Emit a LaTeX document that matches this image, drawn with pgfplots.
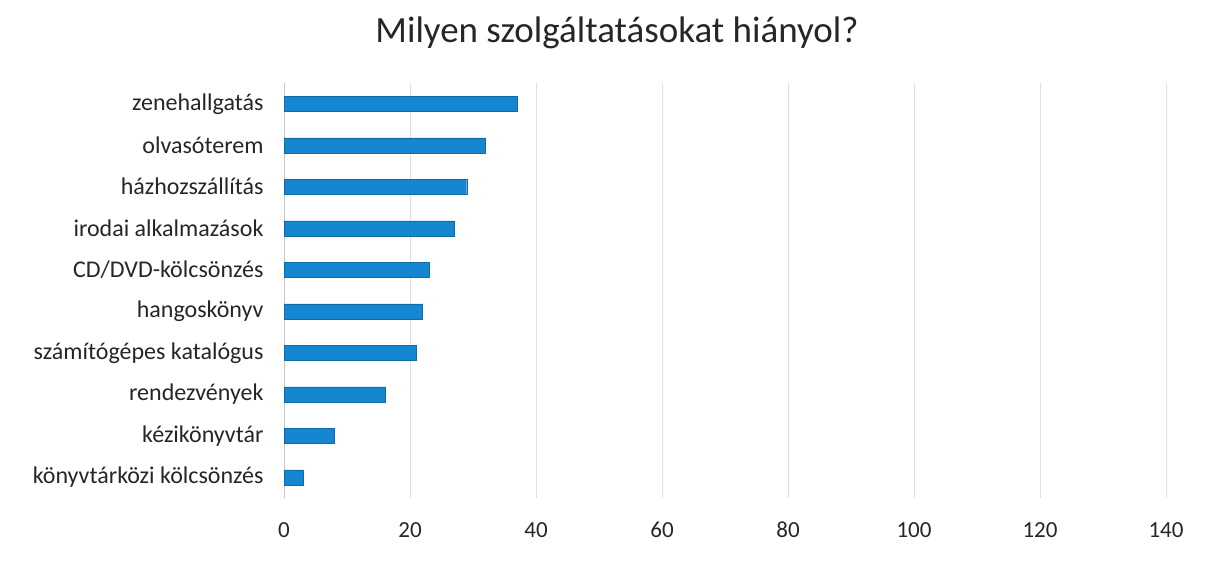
\documentclass[border=0pt]{standalone}
\usepackage{pgfplots}
\pgfplotsset{compat=1.18}
\usepackage{fontspec}
\setmainfont{Carlito}
\definecolor{barblue}{RGB}{20,135,208}
\begin{document}
\begin{tikzpicture}[x=1pt,y=1pt]
\useasboundingbox (0,0) rectangle (1218,563);
\node[font=\fontsize{37}{42}\selectfont, text=black!85] at (617,530) {Milyen szolgáltatásokat hiányol?};
\begin{axis}[
  at={(284pt,65pt)}, anchor=south west,
  scale only axis, width=882pt, height=415pt,
  xbar, bar width=15pt,
  xmin=0, xmax=140, ymin=-0.5, ymax=9.5,
  xtick={0,20,...,140},
  ytick={0,...,9},
  yticklabels={könyvtárközi kölcsönzés,kézikönyvtár,rendezvények,számítógépes katalógus,hangoskönyv,CD/DVD-kölcsönzés,irodai alkalmazások,házhozszállítás,olvasóterem,zenehallgatás},
  axis line style={draw=none},
  major tick length=0pt,
  xmajorgrids, grid style={gray!25, line width=0.8pt},
  yticklabel style={font=\fontsize{24}{28}\selectfont, text=black!85, xshift=-17pt},
  xticklabel style={font=\fontsize{23}{27}\selectfont, text=black!85, yshift=-20pt, text height=16pt, text depth=0pt},
  /pgf/number format/assume math mode=true,
  extra x ticks={0}, extra x tick labels={},
  extra x tick style={grid style={gray!45, line width=0.8pt}},
]
\addplot[fill=barblue, draw=barblue!80!black, line width=0.3pt] coordinates {
(3,0) (8,1) (16,2) (21,3) (22,4) (23,5) (27,6) (29,7) (32,8) (37,9)};
\end{axis}
\end{tikzpicture}
\end{document}
